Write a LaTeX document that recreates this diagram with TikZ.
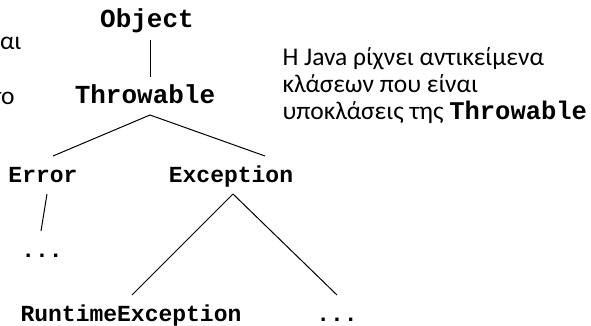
\documentclass[tikz,border=0pt]{standalone}
\usepackage{fontspec}
\setmainfont{Carlito}
\newfontfamily\codefont{Liberation Mono}

\begin{document}
\begin{tikzpicture}[x=1pt, y=-1pt, line width=1pt,
    cls/.style={font=\codefont\bfseries\fontsize{23}{23}\selectfont, anchor=base, inner sep=0pt, outer sep=12pt, text height=14pt, text depth=0pt},
    top/.style={cls, font=\codefont\bfseries\fontsize{26}{26}\selectfont},
    note/.style={font=\fontsize{25.5}{27}\selectfont, align=left, anchor=base west, inner sep=0pt}]
    \useasboundingbox (0,0) rectangle (591,326);
    \clip (0,0) rectangle (591,326);

    \node[top] (obj) at (147,28) {Object};
    \node[top] (thr) at (145,103) {Throwable};
    \node[cls] (err) at (43,182) {Error};
    \node[cls] (exc) at (231,182) {Exception};
    \node[cls] (dotsA) at (42,257) {...};
    \node[cls] (rte) at (131,321) {RuntimeException};
    \node[cls] (dotsB) at (337,321) {...};

    \draw ([xshift=3pt]obj.south) -- ([xshift=5pt]thr.north);
    \draw ([xshift=5pt]thr.south) -- ([xshift=10pt]err.north);
    \draw ([xshift=5pt]thr.south) -- ([xshift=34pt]exc.north);
    \draw ([xshift=4pt]err.south) -- ([xshift=-1pt]dotsA.north);
    \draw ([xshift=2pt]exc.south) -- ([xshift=1pt]rte.north);
    \draw ([xshift=2pt]exc.south) -- (dotsB.north);

    % last line of the note sits on this baseline
    \node[note] (txt) at (282,120) {Η Java ρίχνει αντικείμενα\\κλάσεων που είναι\\υποκλάσεις της {\codefont\bfseries Throwable}};
    \node[note, anchor=base east] (fragA) at (22,50) {αι};
    \node[note, anchor=base east] (fragB) at (15,105) {το};
\end{tikzpicture}
\end{document}
